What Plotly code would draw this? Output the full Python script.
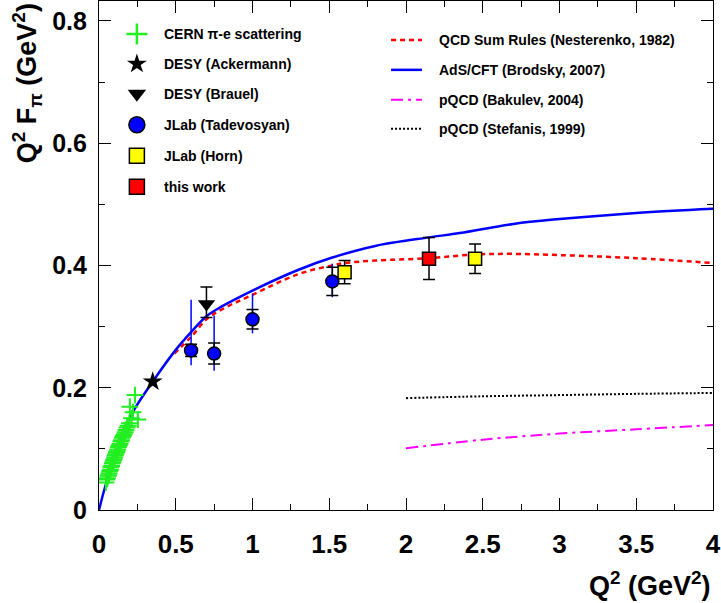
import plotly.graph_objects as go

# ---------------- data ----------------
# CERN pi-e scattering
cern_q2 = [0.045, 0.050, 0.055, 0.058, 0.062, 0.066, 0.070, 0.074, 0.078, 0.082,
           0.086, 0.090, 0.094, 0.098, 0.102, 0.106, 0.110, 0.114, 0.118, 0.122,
           0.127, 0.132, 0.137, 0.142, 0.147, 0.152, 0.158, 0.164, 0.170, 0.176,
           0.183, 0.190, 0.198, 0.201, 0.212, 0.222, 0.234, 0.253]
cern_val = [0.045, 0.050, 0.052, 0.056, 0.057, 0.060, 0.064, 0.066, 0.070, 0.072,
            0.076, 0.078, 0.081, 0.083, 0.086, 0.089, 0.091, 0.094, 0.096, 0.099,
            0.103, 0.106, 0.108, 0.112, 0.114, 0.118, 0.121, 0.124, 0.127, 0.131,
            0.135, 0.138, 0.142, 0.169, 0.150, 0.160, 0.188, 0.148]
cern_err = [0.004, 0.004, 0.004, 0.004, 0.004, 0.005, 0.005, 0.005, 0.005, 0.005,
            0.005, 0.005, 0.006, 0.006, 0.006, 0.006, 0.006, 0.006, 0.007, 0.007,
            0.007, 0.007, 0.007, 0.008, 0.008, 0.008, 0.008, 0.009, 0.009, 0.009,
            0.010, 0.010, 0.010, 0.011, 0.011, 0.012, 0.012, 0.012]

# DESY (Ackermann)
ack_q2 = [0.35]
ack_val = [0.210]

# DESY (Brauel)
brauel_q2 = [0.70]
brauel_val = [0.337]
brauel_err_plus = [0.028]
brauel_err_minus = [0.022]

# JLab (Tadevosyan): statistical and systematic uncertainties
tad_q2 = [0.60, 0.75, 1.00, 1.52]
tad_val = [0.261, 0.256, 0.312, 0.374]
tad_stat = [0.010, 0.017, 0.016, 0.023]
tad_sys_plus = [0.083, 0.062, 0.042, 0.029]
tad_sys_minus = [0.024, 0.028, 0.023, 0.026]

# JLab (Horn)
horn_q2 = [1.60, 2.45]
horn_val = [0.389, 0.411]
horn_err = [0.019, 0.024]

# this work
this_q2 = [2.15]
this_val = [0.411]
this_err_plus = [0.035]
this_err_minus = [0.034]

# Theory curves
nest_q2 = [0.49, 0.60, 0.70, 0.80, 1.00, 1.30, 1.52, 1.60, 1.80, 2.15, 2.45, 2.70, 3.00, 3.50, 4.00]
nest_val = [0.256, 0.283, 0.312, 0.328, 0.352, 0.386, 0.400, 0.404, 0.408, 0.412, 0.418, 0.419, 0.417, 0.412, 0.404]

ads_q2 = [0.0, 0.04, 0.10, 0.15, 0.22, 0.35, 0.50, 0.60, 0.70, 0.80, 1.00, 1.30, 1.52,
          1.80, 2.15, 2.35, 2.70, 3.00, 3.50, 4.00]
ads_val = [0.0, 0.038, 0.085, 0.118, 0.160, 0.210, 0.262, 0.291, 0.317, 0.333, 0.359, 0.393,
           0.413, 0.432, 0.446, 0.453, 0.468, 0.476, 0.486, 0.493]

bak_q2 = [2.0, 2.5, 3.0, 3.5, 4.0]
bak_val = [0.101, 0.115, 0.125, 0.132, 0.139]

stef_q2 = [2.0, 2.5, 3.0, 3.5, 4.0]
stef_val = [0.183, 0.186, 0.188, 0.190, 0.1915]

# ---------------- styles ----------------
FONT = "Liberation Sans, Arial, Helvetica, sans-serif"
GREEN = "#22ee22"
BLUE = "#0000ff"
RED = "#ff0000"
MAGENTA = "#ff00ff"
YELLOW = "#ffff00"
DASH_NEST = "5px,4px"
DASH_BAK = "12px,5px,3px,5px"
DASH_STEF = "2px,2px"

fig = go.Figure()

# theory curves
fig.add_trace(go.Scatter(x=nest_q2, y=nest_val, mode="lines",
                         line=dict(color=RED, width=2.5, dash=DASH_NEST, shape="spline")))
fig.add_trace(go.Scatter(x=ads_q2, y=ads_val, mode="lines",
                         line=dict(color=BLUE, width=2.5, shape="spline")))
fig.add_trace(go.Scatter(x=bak_q2, y=bak_val, mode="lines",
                         line=dict(color=MAGENTA, width=2, dash=DASH_BAK, shape="spline")))
fig.add_trace(go.Scatter(x=stef_q2, y=stef_val, mode="lines",
                         line=dict(color="black", width=2, dash=DASH_STEF, shape="spline")))

# CERN
fig.add_trace(go.Scatter(x=cern_q2, y=cern_val, mode="markers",
                         error_y=dict(type="data", array=cern_err, color=GREEN, thickness=1, width=0),
                         marker=dict(symbol="cross-thin", size=12, line=dict(color=GREEN, width=2))))

# DESY
fig.add_trace(go.Scatter(x=ack_q2, y=ack_val, mode="markers",
                         marker=dict(symbol="star", size=15, color="black", line=dict(width=0))))
fig.add_trace(go.Scatter(x=brauel_q2, y=brauel_val, mode="markers",
                         error_y=dict(type="data", array=brauel_err_plus, arrayminus=brauel_err_minus,
                                      color="black", thickness=1.5, width=6),
                         marker=dict(symbol="triangle-down", size=15, color="black", line=dict(width=0))))

# JLab Tadevosyan: systematic bars then statistical bars with markers
fig.add_trace(go.Scatter(x=tad_q2, y=tad_val, mode="markers",
                         error_y=dict(type="data", array=tad_sys_plus, arrayminus=tad_sys_minus,
                                      color=BLUE, thickness=1.5, width=0),
                         marker=dict(size=1, color="rgba(0,0,0,0)")))
fig.add_trace(go.Scatter(x=tad_q2, y=tad_val, mode="markers",
                         error_y=dict(type="data", array=tad_stat, color="black", thickness=1.5, width=6),
                         marker=dict(symbol="circle", size=13, color=BLUE,
                                     line=dict(color="black", width=1.5))))

# JLab Horn
fig.add_trace(go.Scatter(x=horn_q2, y=horn_val, mode="markers",
                         error_y=dict(type="data", array=horn_err, color="black", thickness=1.5, width=6),
                         marker=dict(symbol="square", size=13, color=YELLOW,
                                     line=dict(color="black", width=1.5))))

# this work
fig.add_trace(go.Scatter(x=this_q2, y=this_val, mode="markers",
                         error_y=dict(type="data", array=this_err_plus, arrayminus=this_err_minus,
                                      color="black", thickness=1.5, width=6),
                         marker=dict(symbol="square", size=13, color=RED,
                                     line=dict(color="black", width=1.5))))

# ---------------- legend (drawn on a pixel-scaled overlay) ----------------
left_entries = [
    ("CERN π-e scattering", dict(symbol="cross-thin", size=15, line=dict(color=GREEN, width=2.5))),
    ("DESY (Ackermann)", dict(symbol="star", size=15, color="black", line=dict(width=0))),
    ("DESY (Brauel)", dict(symbol="triangle-down", size=16, color="black", line=dict(width=0))),
    ("JLab (Tadevosyan)", dict(symbol="circle", size=16, color=BLUE, line=dict(color="black", width=1.5))),
    ("JLab (Horn)", dict(symbol="square", size=15, color=YELLOW, line=dict(color="black", width=1.5))),
    ("this work", dict(symbol="square", size=15, color=RED, line=dict(color="black", width=1.5))),
]
left_rows = [33, 63, 93, 124, 155, 186]
right_entries = [
    ("QCD Sum Rules (Nesterenko, 1982)", dict(color=RED, width=2.5, dash=DASH_NEST)),
    ("AdS/CFT (Brodsky, 2007)", dict(color=BLUE, width=2.5)),
    ("pQCD (Bakulev, 2004)", dict(color=MAGENTA, width=2, dash=DASH_BAK)),
    ("pQCD (Stefanis, 1999)", dict(color="black", width=2, dash=DASH_STEF)),
]
right_rows = [39, 69, 99, 128]

annotations = []
for (label, mk), yy in zip(left_entries, left_rows):
    fig.add_trace(go.Scatter(x=[137], y=[yy], mode="markers", marker=mk,
                             xaxis="x2", yaxis="y2", cliponaxis=False))
    annotations.append(dict(x=162, y=yy, xref="x2", yref="y2", text=label, showarrow=False,
                            xanchor="left", yanchor="middle",
                            font=dict(family=FONT, size=14, color="black", weight="bold")))
for (label, ln), yy in zip(right_entries, right_rows):
    fig.add_trace(go.Scatter(x=[392, 423], y=[yy, yy], mode="lines", line=ln,
                             xaxis="x2", yaxis="y2"))
    annotations.append(dict(x=438, y=yy, xref="x2", yref="y2", text=label, showarrow=False,
                            xanchor="left", yanchor="middle",
                            font=dict(family=FONT, size=14, color="black", weight="bold")))

# axis titles
annotations.append(dict(x=1.0, y=-0.145, xref="paper", yref="paper",
                        text="Q<sup>2</sup> (GeV<sup>2</sup>)", showarrow=False,
                        xanchor="right", yanchor="middle",
                        font=dict(family=FONT, size=27, color="black", weight="bold")))
annotations.append(dict(x=-0.117, y=1.0, xref="paper", yref="paper",
                        text="Q<sup>2</sup> F<sub>π</sub> (GeV<sup>2</sup>)", showarrow=False,
                        textangle=-90, xanchor="center", yanchor="top",
                        font=dict(family=FONT, size=27, color="black", weight="bold")))

fig.update_layout(
    width=721, height=603,
    margin=dict(l=99, r=6, t=0, b=93),
    paper_bgcolor="white", plot_bgcolor="white",
    showlegend=False,
    annotations=annotations,
    xaxis=dict(range=[0, 4], dtick=0.5, tick0=0, showgrid=False, zeroline=False,
               showline=True, linecolor="black", linewidth=1.2, mirror="ticks",
               ticks="inside", ticklen=12, tickwidth=1.2, tickcolor="black",
               minor=dict(dtick=0.25, ticks="inside", ticklen=6, tickwidth=1.2, tickcolor="black"),
               ticklabelstandoff=11, ticklabeloverflow="allow",
               tickfont=dict(family=FONT, size=26, color="black", weight="bold")),
    yaxis=dict(range=[0, 0.8327], dtick=0.2, tick0=0, showgrid=False, zeroline=False,
               showline=True, linecolor="black", linewidth=1.2, mirror="ticks",
               ticks="inside", ticklen=12, tickwidth=1.2, tickcolor="black",
               minor=dict(dtick=0.1, ticks="inside", ticklen=6, tickwidth=1.2, tickcolor="black"),
               ticklabelstandoff=6, ticklabeloverflow="allow",
               tickfont=dict(family=FONT, size=25, color="black", weight="bold")),
    xaxis2=dict(overlaying="x", range=[99, 715], visible=False, fixedrange=True),
    yaxis2=dict(overlaying="y", range=[510, 0], visible=False, fixedrange=True),
)

fig.write_html("out.html")
